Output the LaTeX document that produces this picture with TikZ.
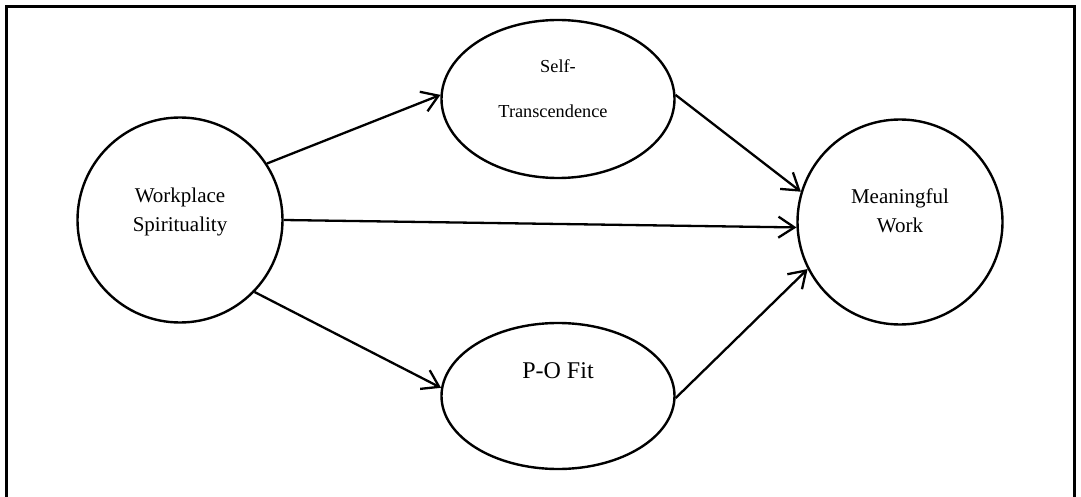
\documentclass[tikz,border=0pt]{standalone}
\usepackage{fontspec}
\setmainfont{Liberation Serif}
\usetikzlibrary{shapes.geometric,arrows.meta}
\tikzset{
  shape line/.style={draw=black, line width=2.4pt, inner sep=0pt},
  circ/.style={shape line, circle, minimum size=205pt},
  ell/.style={shape line, ellipse, minimum width=233pt},
  lbl/.style={anchor=base, inner sep=0pt},
  arr/.style={line width=2.3pt, -{Straight Barb[length=16pt,width=21pt,line width=2.3pt]}},
}
\begin{document}
\begin{tikzpicture}[x=1pt,y=-1pt]
\useasboundingbox (0,0) rectangle (1081,497);
% frame
\draw[line width=3pt] (6.7,499) -- (6.7,6.7) -- (1074.5,6.7) -- (1074.5,499);
% shapes
\node[circ] (ws) at (180,220) {};
\node[circ] (mw) at (900,222) {};
\node[ell, minimum height=158pt] (st) at (558,99) {};
\node[ell, minimum height=146pt] (po) at (558,396) {};
% labels
\node[lbl, font=\fontsize{21}{25}\selectfont] (wsa) at (180,203) {Workplace};
\node[lbl, font=\fontsize{21}{25}\selectfont] (wsb) at (180,231) {Spirituality};
\node[lbl, font=\fontsize{21}{25}\selectfont] (mwa) at (900,204) {Meaningful};
\node[lbl, font=\fontsize{21}{25}\selectfont] (mwb) at (900,232) {Work};
\node[lbl, font=\fontsize{18.3}{22}\selectfont] (sta) at (558,73) {Self-};
\node[lbl, font=\fontsize{18.3}{22}\selectfont] (stb) at (553,118) {Transcendence};
\node[lbl, font=\fontsize{24}{28}\selectfont] (poa) at (558,378) {P-O Fit};
% connectors
\draw[arr] (ws.33) -- (st.178);
\draw[arr] (ws.0) -- (mw.183);
\draw[arr] (ws.316) -- (po.176);
\draw[arr] (st.2) -- (mw.163);
\draw[arr] (po.359) -- (mw.207);
\end{tikzpicture}
\end{document}
